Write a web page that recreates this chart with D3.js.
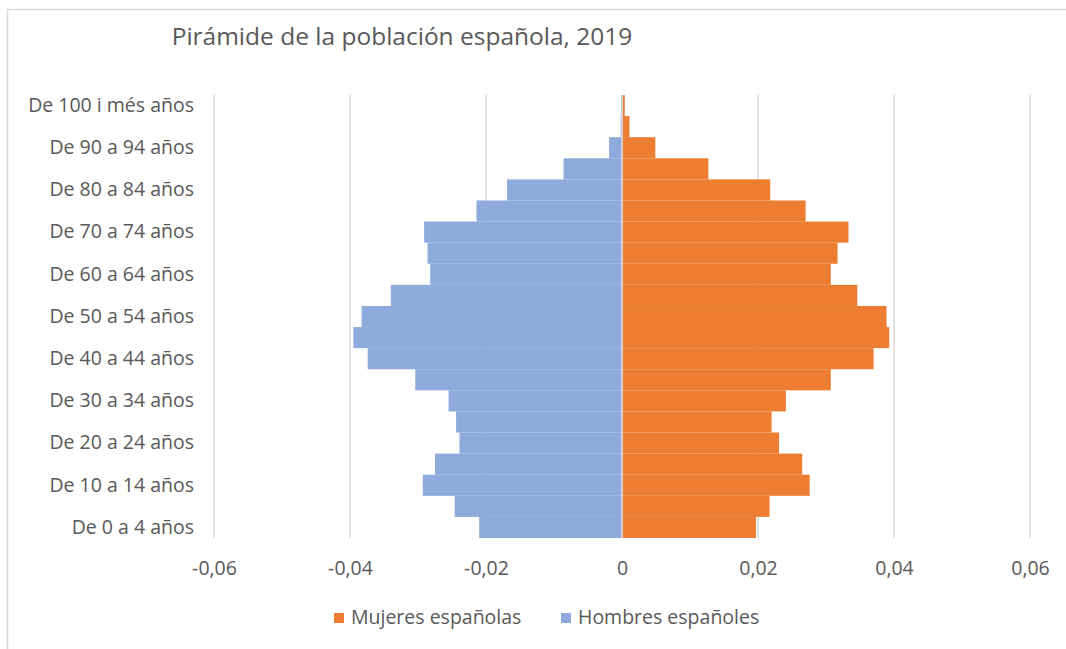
<!DOCTYPE html>
<html>
<head>
<meta charset="utf-8">
<script src="https://d3js.org/d3.v7.min.js"></script>
<style>
  body { margin: 0; background: #fff; }
  text { font-family: "Open Sans", Lato, sans-serif; fill: #595959; }
</style>
</head>
<body>
<script>
// age groups, from youngest (bottom) to oldest (top)
var ageGroups = ["De 0 a 4 años", "De 5 a 9 años", "De 10 a 14 años", "De 15 a 19 años",
  "De 20 a 24 años", "De 25 a 29 años", "De 30 a 34 años", "De 35 a 39 años",
  "De 40 a 44 años", "De 45 a 49 años", "De 50 a 54 años", "De 55 a 59 años",
  "De 60 a 64 años", "De 65 a 69 años", "De 70 a 74 años", "De 75 a 79 años",
  "De 80 a 84 años", "De 85 a 89 años", "De 90 a 94 años", "De 95 a 99 años",
  "De 100 i més años"];

var mujeres = [0.0197, 0.0217, 0.0276, 0.0265, 0.0231, 0.0220, 0.0241, 0.0307,
  0.0370, 0.0393, 0.0389, 0.0346, 0.0307, 0.0317, 0.0333, 0.0270,
  0.0218, 0.0127, 0.0049, 0.0011, 0.0004];

var hombres = [-0.0210, -0.0246, -0.0293, -0.0275, -0.0239, -0.0244, -0.0255, -0.0304,
  -0.0374, -0.0395, -0.0383, -0.0340, -0.0282, -0.0286, -0.0291, -0.0214,
  -0.0169, -0.0086, -0.0019, -0.0002, -0.0001];

var xTicks = [-0.06, -0.04, -0.02, 0, 0.02, 0.04, 0.06];

var seriesNames = ["Mujeres españolas", "Hombres españoles"];
var seriesColors = ["#ED7D31", "#8FAADC"];

// sizes (plotTop, not top: window.top is taken)
var w = 1066;
var h = 649;
var plotLeft = 214, plotRight = 1030, plotTop = 95, plotBottom = 538;
var labelSize = "19.5px";

const svg = d3.select("body")
  .append("svg")
  .attr("width", w)
  .attr("height", h);

// outer frame of the chart area
svg.append("rect")
  .attr("x", 7.5)
  .attr("y", 9.5)
  .attr("width", w + 20)
  .attr("height", h + 20)
  .attr("fill", "none")
  .attr("stroke", "#d9d9d9")
  .attr("stroke-width", 1.5);

// title
svg.append("text")
  .attr("x", 402)
  .attr("y", 45)
  .attr("text-anchor", "middle")
  .style("font-size", "24.5px")
  .text("Pirámide de la población española, 2019");

// scales
const xScale = d3.scaleLinear()
  .domain([-0.06, 0.06])
  .range([plotLeft, plotRight]);

const yScale = d3.scaleBand()
  .domain(ageGroups.slice().reverse())
  .range([plotTop, plotBottom])
  .padding(0);

var fmt = (d) => d === 0 ? "0" : d3.format(".2f")(d).replace(".", ",").replace("−", "-");

// gridlines
svg.append("g")
  .selectAll("line")
  .data(xTicks.filter((d) => d !== 0))
  .enter()
  .append("line")
  .attr("x1", (d) => xScale(d))
  .attr("x2", (d) => xScale(d))
  .attr("y1", plotTop)
  .attr("y2", plotBottom)
  .attr("stroke", "#d9d9d9")
  .attr("stroke-width", 1.5);

// bars
var rows = ageGroups.map((a, i) => ({ age: a, m: mujeres[i], h: hombres[i] }));

svg.append("g")
  .selectAll("rect")
  .data(rows)
  .enter()
  .append("rect")
  .attr("x", xScale(0))
  .attr("y", (d) => yScale(d.age))
  .attr("width", (d) => xScale(d.m) - xScale(0))
  .attr("height", yScale.bandwidth())
  .attr("fill", seriesColors[0]);

svg.append("g")
  .selectAll("rect")
  .data(rows)
  .enter()
  .append("rect")
  .attr("x", (d) => xScale(d.h))
  .attr("y", (d) => yScale(d.age))
  .attr("width", (d) => xScale(0) - xScale(d.h))
  .attr("height", yScale.bandwidth())
  .attr("fill", seriesColors[1]);

// zero line sits over the bars
svg.append("line")
  .attr("x1", xScale(0))
  .attr("x2", xScale(0))
  .attr("y1", plotTop)
  .attr("y2", plotBottom)
  .attr("stroke", "#d0d0d0")
  .attr("stroke-width", 2);

// x axis labels
const xAxis = d3.axisBottom(xScale)
  .tickValues(xTicks)
  .tickFormat(fmt)
  .tickSize(0)
  .tickPadding(23);

const gx = svg.append("g")
  .attr("transform", "translate(0," + plotBottom + ")")
  .call(xAxis);
gx.select(".domain").remove();
gx.selectAll("text")
  .style("font-size", labelSize)
  .attr("font-family", null);

// y axis labels, every second group
const yAxis = d3.axisLeft(yScale)
  .tickValues(ageGroups.filter((d, i) => i % 2 === 0))
  .tickSize(0)
  .tickPadding(20);

const gy = svg.append("g")
  .attr("transform", "translate(" + plotLeft + ",0)")
  .call(yAxis);
gy.select(".domain").remove();
gy.selectAll("text")
  .style("font-size", labelSize)
  .attr("font-family", null);

// legend
var legendX = [334, 561];
var legend = svg.append("g")
  .selectAll("g")
  .data(seriesNames)
  .enter()
  .append("g")
  .attr("transform", (d, i) => "translate(" + legendX[i] + ",613)");

legend.append("rect")
  .attr("width", 10)
  .attr("height", 10)
  .attr("fill", (d, i) => seriesColors[i]);

legend.append("text")
  .attr("x", 17)
  .attr("y", 11)
  .style("font-size", labelSize)
  .text((d) => d);
</script>
</body>
</html>
